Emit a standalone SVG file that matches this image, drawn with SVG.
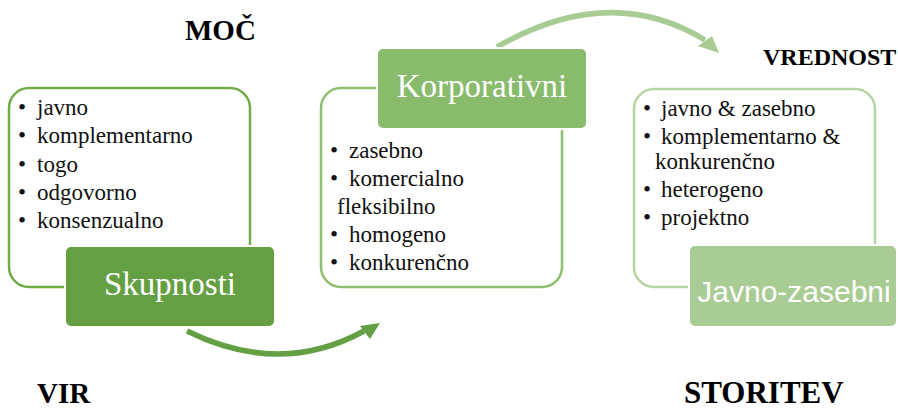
<svg xmlns="http://www.w3.org/2000/svg" width="898" height="410" viewBox="0 0 898 410">
<style>
.lbl{font-family:"Liberation Serif",serif;font-weight:bold;fill:#000}
.li{font-family:"Liberation Serif",serif;font-size:23px;fill:#111}
.hd{font-family:"Liberation Serif",serif;font-size:33px;fill:#fff;text-anchor:middle}
.hds{font-family:"Liberation Sans",sans-serif;font-size:30px;fill:#fff;text-anchor:middle}
.frame{fill:#fff;stroke-width:2.5}
.tag{stroke:#fff;stroke-width:2}
</style>
<rect width="898" height="410" fill="#fff"/>
<g id="connectors">
  <path d="M497,47 Q610,-18 705,40" fill="none" stroke="#A9CB94" stroke-width="5.5"/>
  <polygon points="719,53 698,46 712,36" fill="#A9CB94"/>
  <path d="M187,331 Q280,377 364,331" fill="none" stroke="#64A043" stroke-width="5.5"/>
  <polygon points="380,323 360,326 370,339" fill="#64A043"/>
</g>
<g id="skupnosti">
  <rect class="frame" x="9" y="88" width="241" height="199" rx="20" stroke="#70AD47"/>
  <text class="li" x="18" y="115">•</text><text class="li" x="37" y="115">javno</text>
  <text class="li" x="18" y="143">•</text><text class="li" x="37" y="143">komplementarno</text>
  <text class="li" x="18" y="172">•</text><text class="li" x="37" y="172">togo</text>
  <text class="li" x="18" y="200">•</text><text class="li" x="37" y="200">odgovorno</text>
  <text class="li" x="18" y="228">•</text><text class="li" x="37" y="228">konsenzualno</text>
  <rect class="tag" x="65" y="246" width="210" height="81" rx="6" fill="#64A043"/>
  <text class="hd" x="170" y="295">Skupnosti</text>
</g>
<g id="korporativni">
  <rect class="frame" x="321" y="88" width="241" height="199" rx="20" stroke="#8DBF6F"/>
  <text class="li" x="330" y="158">•</text><text class="li" x="349" y="158">zasebno</text>
  <text class="li" x="330" y="186">•</text><text class="li" x="349" y="186">komercialno</text>
  <text class="li" x="337" y="214">fleksibilno</text>
  <text class="li" x="330" y="242">•</text><text class="li" x="349" y="242">homogeno</text>
  <text class="li" x="330" y="270">•</text><text class="li" x="349" y="270">konkurenčno</text>
  <rect class="tag" x="377" y="48" width="210" height="81" rx="6" fill="#88BB6B"/>
  <text class="hd" x="482" y="97">Korporativni</text>
</g>
<g id="javno-zasebni">
  <rect class="frame" x="634" y="89" width="241" height="198" rx="20" stroke="#B5D5A1"/>
  <text class="li" x="643" y="116">•</text><text class="li" x="661" y="116">javno &amp; zasebno</text>
  <text class="li" x="643" y="144">•</text><text class="li" x="661" y="144">komplementarno &amp;</text>
  <text class="li" x="655" y="169">konkurenčno</text>
  <text class="li" x="643" y="197">•</text><text class="li" x="661" y="197">heterogeno</text>
  <text class="li" x="643" y="225">•</text><text class="li" x="661" y="225">projektno</text>
  <rect class="tag" x="689" y="245" width="208" height="82" rx="6" fill="#A9CB94"/>
  <text class="hds" x="794" y="302">Javno-zasebni</text>
</g>
<g id="labels">
  <text class="lbl" x="185" y="40" font-size="29">MOČ</text>
  <text class="lbl" x="37" y="403" font-size="29">VIR</text>
  <text class="lbl" x="684" y="403" font-size="31">STORITEV</text>
  <text class="lbl" x="763" y="65" font-size="24">VREDNOST</text>
</g>
</svg>
